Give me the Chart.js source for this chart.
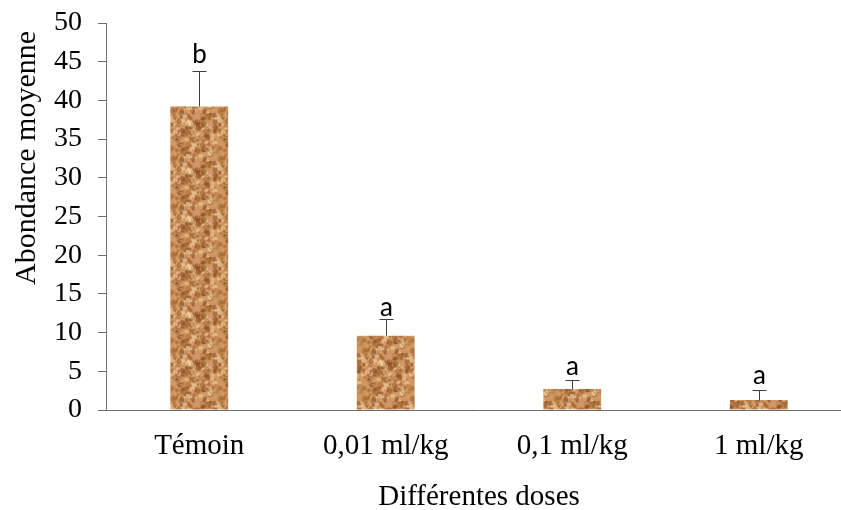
<!DOCTYPE html>
<html>
<head>
<meta charset="utf-8">
<script src="https://cdn.jsdelivr.net/npm/chart.js"></script>
<style>
  html, body { margin: 0; padding: 0; background: #fff; overflow: hidden; }
  #wrap { position: relative; width: 852px; height: 510px; }
</style>
</head>
<body>
<div id="wrap"><canvas id="chart" width="852" height="510"></canvas></div>
<script>
// Données
const doses = ['Témoin', '0,01 ml/kg', '0,1 ml/kg', '1 ml/kg'];
const abondance = [39.2, 9.6, 2.7, 1.3];
const erreurs = [4.6, 2.2, 1.2, 1.3];
const lettres = ['b', 'a', 'a', 'a'];
const niveauxLettres = [44.8, 12.2, 4.5, 3.4];
const yTicks = [0, 5, 10, 15, 20, 25, 30, 35, 40, 45, 50];

const serif = '"Liberation Serif", "Times New Roman", serif';

// Texture brune (pseudo-aléatoire fixe, seulement pour le motif)
function makeTexture() {
    const c = document.createElement('canvas');
    c.width = 48; c.height = 48;
    const g = c.getContext('2d');
    g.fillStyle = '#cf9864';
    g.fillRect(0, 0, 48, 48);
    let s = 12345;
    const rnd = () => { s = (s * 1103515245 + 12345) % 2147483648; return s / 2147483648; };
    const cols = ['rgba(150,88,38,0.5)', 'rgba(242,204,156,0.6)', 'rgba(185,118,62,0.45)', 'rgba(115,62,25,0.4)'];
    g.filter = 'blur(0.6px)';
    for (let i = 0; i < 260; i++) {
        g.fillStyle = cols[i % cols.length];
        const x = rnd() * 48, y = rnd() * 48, r = 0.9 + rnd() * 1.9;
        for (const dx of [-48, 0, 48]) for (const dy of [-48, 0, 48]) {
            g.beginPath();
            g.arc(x + dx, y + dy, r, 0, Math.PI * 2);
            g.fill();
        }
    }
    return g.createPattern(c, 'repeat');
}

const errorBars = {
    id: 'errorBars',
    afterDatasetsDraw(chart) {
        const ctx = chart.ctx;
        const xs = chart.scales.x, ys = chart.scales.y;
        ctx.save();
        ctx.strokeStyle = '#404040';
        ctx.lineWidth = 1;
        abondance.forEach((v, i) => {
            const x = Math.round(xs.getPixelForValue(i)) + 0.5;
            const y0 = ys.getPixelForValue(v);
            const y1 = Math.round(ys.getPixelForValue(v + erreurs[i])) + 0.5;
            ctx.beginPath();
            ctx.moveTo(x, y0);
            ctx.lineTo(x, y1);
            ctx.moveTo(x - 7, y1);
            ctx.lineTo(x + 7, y1);
            ctx.stroke();
            ctx.fillStyle = '#000';
            ctx.font = '26px Lato, "Liberation Sans", sans-serif';
            ctx.textAlign = 'center';
            ctx.textBaseline = 'alphabetic';
            ctx.fillText(lettres[i], x, ys.getPixelForValue(niveauxLettres[i]));
        });
        // Titre de l'axe vertical
        ctx.fillStyle = '#000';
        ctx.font = '30px ' + serif;
        ctx.translate(27, 158);
        ctx.rotate(-Math.PI / 2);
        ctx.textAlign = 'center';
        ctx.textBaseline = 'middle';
        ctx.fillText('Abondance moyenne', 0, 0);
        ctx.restore();
    }
};

new Chart(document.getElementById('chart'), {
    type: 'bar',
    data: {
        labels: doses,
        datasets: [{
            data: abondance,
            backgroundColor: makeTexture(),
            borderWidth: 0,
            categoryPercentage: 1,
            barPercentage: 0.31
        }]
    },
    options: {
        responsive: false,
        animation: false,
        layout: { padding: { top: 23, left: 0, right: 0, bottom: 0 } },
        plugins: { legend: { display: false }, tooltip: { enabled: false } },
        scales: {
            x: {
                grid: { display: false, drawTicks: false },
                border: { display: true, color: '#6f6f6f', width: 1 },
                ticks: { color: '#000', font: { family: serif, size: 29 }, padding: 19 },
                title: {
                    display: true, text: 'Différentes doses', color: '#000',
                    font: { family: serif, size: 29 }, padding: { top: 0, bottom: -5 }
                },
                afterFit(s) { s.height = 100; s.paddingLeft = 0; s.paddingRight = 0; }
            },
            y: {
                min: 0, max: 50,
                afterBuildTicks(s) { s.ticks = yTicks.map(v => ({ value: v })); },
                grid: { drawOnChartArea: false, tickLength: 8, color: '#6f6f6f' },
                border: { display: true, color: '#6f6f6f', width: 1 },
                ticks: { color: '#000', font: { family: serif, size: 28 }, padding: 16 },
                afterFit(s) { s.width = 106; s.paddingTop = 0; s.paddingBottom = 0; }
            }
        }
    },
    plugins: [errorBars]
});
</script>
</body>
</html>
